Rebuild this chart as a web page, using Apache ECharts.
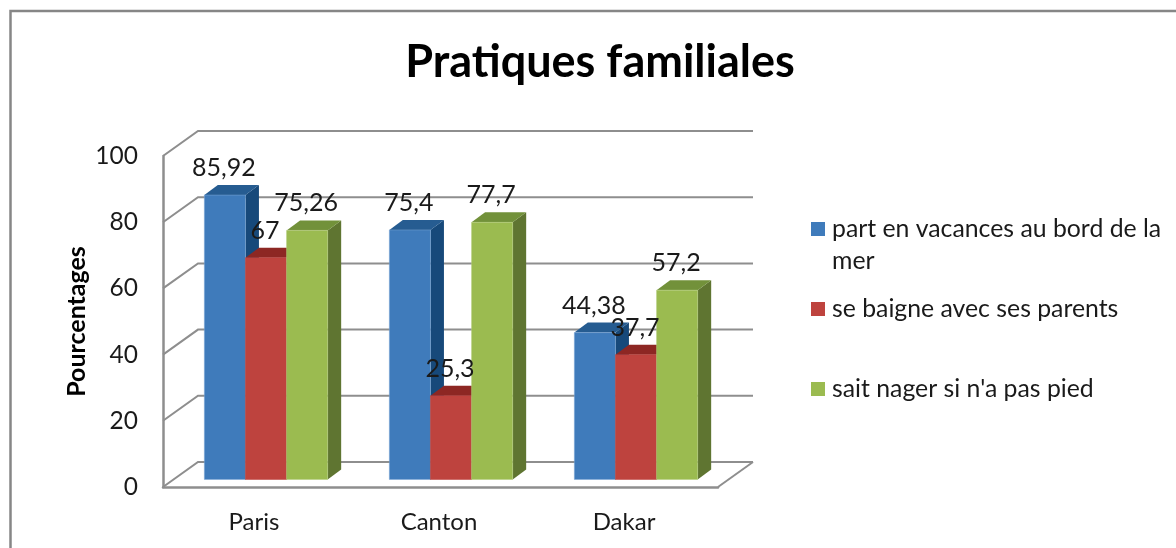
<!DOCTYPE html>
<html>
<head>
<meta charset="utf-8">
<style>html,body{margin:0;padding:0;background:#fff}#c{width:1176px;height:548px}</style>
<script src="https://cdn.jsdelivr.net/npm/echarts@6/dist/echarts.min.js"></script>
</head>
<body>
<div id="c"></div>
<script>
const categories = ['Paris', 'Canton', 'Dakar'];
const yTicks = [0, 20, 40, 60, 80, 100];
const vacances = [85.92, 75.4, 44.38];
const baigne = [67, 25.3, 37.7];
const nager = [75.26, 77.7, 57.2];
const seriesNames = ['part en vacances au bord de la mer', 'se baigne avec ses parents', "sait nager si n'a pas pied"];
const titleText = 'Pratiques familiales';
const axisName = 'Pourcentages';

const FONT = 'Lato';
const GRID_COLOR = '#8E8E8E';
const WALL = {dx: 35, dy: -25};
const BAR_SHIFT = {dx: 10.5, dy: -7.5};
const BAR_DEPTH = {dx: 13.5, dy: -10};
const styles = [
  {front: '#3F7BBB', top: '#265C91', side: '#17497A', edge: '#7FA8D6'},
  {front: '#BE433E', top: '#8D2723', side: '#8D2723', edge: '#BE433E'},
  {front: '#9BBB50', top: '#72913A', side: '#5F7531', edge: '#B4CD7C'}
];

function poly(points, fill, z2) {
  return {type: 'polygon', z2: z2 || 0, silent: true, shape: {points}, style: {fill}};
}

function wallItem(params, api) {
  const cs = params.coordSys;
  const y = api.coord([0, api.value(1)])[1];
  const x0 = cs.x, x1 = cs.x + cs.width;
  const children = [{
    type: 'polyline', silent: true,
    shape: {points: [[x0, y], [x0 + WALL.dx, y + WALL.dy], [x1 + WALL.dx, y + WALL.dy]]},
    style: {stroke: GRID_COLOR, lineWidth: 2, fill: 'none'}
  }];
  if (api.value(1) === 0) {
    children.push({
      type: 'line', silent: true,
      shape: {x1: x1, y1: y, x2: x1 + WALL.dx, y2: y + WALL.dy},
      style: {stroke: GRID_COLOR, lineWidth: 2}
    });
  }
  return {type: 'group', children};
}

function barItem(seriesIndex) {
  return function (params, api) {
    const st = styles[seriesIndex];
    const band = api.size([1, 0])[0];
    const w = band / 4.5;
    const cx = api.coord([api.value(0), 0])[0] + BAR_SHIFT.dx;
    const v = api.value(1);
    const xl = cx - 1.5 * w + seriesIndex * w;
    const xr = xl + w;
    const yb = api.coord([0, 0])[1] + BAR_SHIFT.dy;
    const yt = api.coord([0, v])[1] + BAR_SHIFT.dy;
    const d = BAR_DEPTH;
    return {
      type: 'group',
      children: [
        poly([[xr, yt], [xr + d.dx, yt + d.dy], [xr + d.dx, yb + d.dy], [xr, yb]], st.side),
        poly([[xl, yt], [xl + d.dx, yt + d.dy], [xr + d.dx, yt + d.dy], [xr, yt]], st.top),
        {
          type: 'rect', silent: true,
          shape: {x: xl, y: yt, width: w, height: yb - yt},
          style: {fill: st.front, stroke: st.edge, lineWidth: 0.5}
        },
        {
          type: 'text', silent: true, z2: 100,
          x: (xl + xr) / 2 - 1, y: yt - 27,
          style: {
            text: String(v).replace('.', ','),
            align: 'center', verticalAlign: 'middle',
            fontFamily: FONT, fontSize: 25, fill: '#1a1a1a'
          }
        }
      ]
    };
  };
}

const valueSets = [vacances, baigne, nager];

const barSeries = seriesNames.map((name, i) => ({
  type: 'custom',
  name,
  renderItem: barItem(i),
  clip: false,
  encode: {x: 0, y: 1},
  itemStyle: {color: styles[i].front},
  data: valueSets[i].map((v, k) => [k, v])
}));

const legendText = {fontFamily: FONT, fontSize: 24.8, color: '#1a1a1a', lineHeight: 32, padding: [0, 0, 0, 2]};

const option = {
  backgroundColor: '#fff',
  animation: false,
  title: {
    text: titleText, left: 595, top: 35, textAlign: 'center',
    textStyle: {fontFamily: FONT, fontWeight: 'bold', fontSize: 45, color: '#000'}
  },
  grid: {left: 163, right: 458, top: 156, bottom: 61},
  legend: [
    {
      data: [seriesNames[0]], left: 811, top: 213, padding: 0, orient: 'vertical',
      itemWidth: 14, itemHeight: 64,
      icon: 'path://M0 9H14V23H0ZM0 0H.01V.01ZM14 64H13.99V63.99Z',
      formatter: () => 'part en vacances au bord de la\nmer',
      textStyle: legendText
    },
    {
      data: [seriesNames[1]], left: 811, top: 293, padding: 0,
      itemWidth: 14, itemHeight: 14, icon: 'rect', textStyle: legendText
    },
    {
      data: [seriesNames[2]], left: 811, top: 373, padding: 0,
      itemWidth: 14, itemHeight: 14, icon: 'rect', textStyle: legendText
    }
  ],
  xAxis: {
    type: 'category', data: categories,
    axisTick: {show: false},
    axisLine: {lineStyle: {color: '#8E8E8E', width: 2.5}},
    axisLabel: {fontFamily: FONT, fontSize: 24, color: '#1a1a1a', margin: 23, padding: [0, 3, 0, 0]}
  },
  yAxis: {
    type: 'value', min: 0, max: 100, interval: 20,
    name: axisName, nameLocation: 'middle', nameGap: 74, nameRotate: 90,
    nameTextStyle: {fontFamily: FONT, fontWeight: 'bold', fontSize: 25, color: '#000'},
    axisLine: {show: true, lineStyle: {color: '#8E8E8E', width: 2.5}},
    axisTick: {show: false},
    splitLine: {show: false},
    axisLabel: {fontFamily: FONT, fontSize: 24.5, color: '#1a1a1a', margin: 25}
  },
  graphic: [{
    type: 'polyline', silent: true,
    shape: {points: [[10.5, 560], [10.5, 11], [1190, 11]]},
    style: {stroke: '#868686', lineWidth: 2.5, fill: 'none'}
  }],
  series: [{
    type: 'custom',
    name: 'walls',
    renderItem: wallItem,
    clip: false,
    encode: {x: 0, y: 1},
    data: yTicks.map(t => [0, t])
  }].concat(barSeries)
};

echarts.init(document.getElementById('c')).setOption(option);
</script>
</body>
</html>
